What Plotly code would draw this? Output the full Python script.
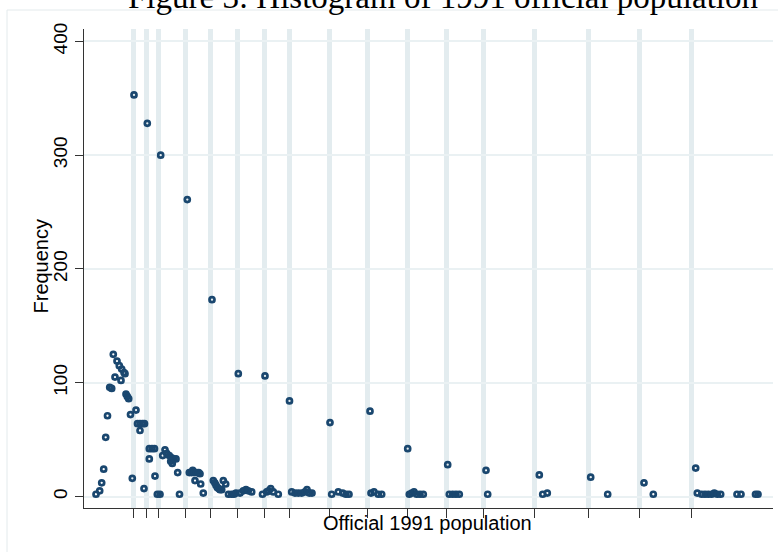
import plotly.graph_objects as go

# ---- data ----
# horizontal position of each histogram point (axis units, no tick labels shown)
pop_pos = [
    12, 15.7, 17.7, 19.7, 21.7, 23.5, 25.7, 27.7, 29.3, 31, 33, 35.3, 37, 37.7, 40, 41, 42, 43.3, 44.7, 46.5,
    48.3, 50, 52, 53.5, 56, 56, 58.5, 60.5, 60, 63.3, 65.3, 68, 70.5, 65.3, 71, 73.3, 76, 76.7, 78.7, 81,
    82.7, 85.3, 87.7, 89.3, 92, 86.7, 88.3, 93.7, 95.5, 103.3, 105.3, 107.5, 108.7, 110, 112.5, 114.7, 116, 111, 116.7, 119.3,
    128, 129.3, 130.8, 132, 133.3, 134.7, 136, 137.7, 139.3, 141.7, 144.5, 147.7, 150, 152, 154.3, 156, 159.3, 162, 164.3, 167.7,
    178.5, 181, 182.7, 184.7, 186.7, 189.3, 194.3, 205.5, 207.7, 211, 214.3, 217.7, 221, 223, 225.3, 228, 246, 247.7, 254.3, 258.7,
    262, 265, 286, 287, 290, 294.3, 297.7, 323.7, 325.3, 327.7, 330, 332.7, 336, 339.3, 363.7, 365.3, 368.7, 372, 375.3, 402,
    403.7, 455.3, 458.7, 463.3, 506.7, 523.7, 560, 569.3, 611.7, 613.3, 617.7, 621, 624.3, 627.7, 630.3, 633.3, 636.7, 653, 657, 671.5,
    674,
]
freq = [
    2, 5, 12, 24, 52, 71, 96, 95, 125, 105, 119, 115, 102, 112, 109, 108, 90, 88, 86, 72,
    16, 353, 76, 64, 64, 58, 64, 64, 7, 328, 42, 42, 42, 33, 18, 2, 2, 300, 36, 41,
    38, 36, 34, 33, 33, 31, 29, 21, 2, 261, 21, 21, 23, 21, 21, 21, 20, 14, 11, 3,
    173, 14, 12, 10, 8, 7, 6, 6, 14, 11, 2, 2, 2, 3, 108, 3, 5, 6, 5, 4,
    2, 106, 4, 5, 7, 4, 2, 84, 4, 3, 3, 3, 4, 6, 3, 3, 65, 2, 4, 3,
    2, 2, 75, 3, 4, 2, 2, 42, 2, 3, 4, 2, 2, 2, 28, 2, 2, 2, 2, 23,
    2, 19, 2, 3, 17, 2, 12, 2, 25, 3, 2, 2, 2, 2, 3, 2, 2, 2, 2, 2,
    2,
]
# heaping positions marked by vertical lines / x ticks
heap_pos = [49, 62.7, 74.7, 101.5, 126.7, 153, 180, 205, 245.5, 283.5, 323, 362, 399.5, 450.5, 504, 555.5, 607]
freq_ticks = [0, 100, 200, 300, 400]

title_text = "Figure 3: Histogram of 1991 official population"
x_title = "Official 1991 population"
y_title = "Frequency"

NAVY = "#1a476f"
LINE = "#e3ecef"

fig = go.Figure()
fig.add_trace(go.Scatter(
    x=pop_pos, y=freq, mode="markers",
    marker=dict(symbol="circle-open", size=5, color=NAVY, line=dict(width=2.7, color=NAVY)),
    hoverinfo="x+y", showlegend=False,
))

W, H = 778, 552
ML, MR, MT, MB = 84, 5, 29, 44
PW = W - ML - MR
PH = H - MT - MB

def px_x(p):
    return (p - ML) / PW

def px_y(p):
    return 1 - (p - MT) / PH

fig.update_layout(
    width=W, height=H,
    margin=dict(l=ML, r=MR, t=MT, b=MB, pad=0, autoexpand=False),
    paper_bgcolor="white", plot_bgcolor="white",
    font=dict(family="Liberation Sans, Arial, sans-serif", color="#000000"),
    xaxis=dict(
        range=[0, 689], tickmode="array", tickvals=heap_pos, showticklabels=False,
        showgrid=True, gridcolor=LINE, gridwidth=5, automargin=False,
        ticks="outside", ticklen=9, tickwidth=1, tickcolor="#333333",
        showline=True, linecolor="#333333", linewidth=1, zeroline=False,
    ),
    yaxis=dict(
        range=[-10.1, 410.9], tickmode="array", tickvals=freq_ticks,
        ticktext=[str(t) for t in freq_ticks], tickangle=-90, automargin=False,
        tickfont=dict(size=19, family="Liberation Sans, Arial, sans-serif"),
        showgrid=True, gridcolor="#eaf1f3", gridwidth=2,
        ticks="outside", ticklen=8, tickwidth=1, tickcolor="#333333",
        showline=True, linecolor="#333333", linewidth=1, zeroline=False,
    ),
    shapes=[dict(
        type="rect", xref="paper", yref="paper", layer="below",
        x0=px_x(7), x1=px_x(790), y0=px_y(10), y1=px_y(565),
        line=dict(color="#e3eaec", width=1), fillcolor="rgba(0,0,0,0)",
    )],
    annotations=[
        dict(text=title_text, xref="paper", yref="paper", x=px_x(442.5), y=px_y(17),
             xanchor="center", yanchor="bottom", showarrow=False,
             font=dict(family="Liberation Serif, Times New Roman, serif", size=33, color="#000000")),
        dict(text=y_title, xref="paper", yref="paper", x=px_x(40), y=px_y(266.5),
             xanchor="center", yanchor="middle", textangle=-90, showarrow=False,
             font=dict(size=20)),
        dict(text=x_title, xref="paper", yref="paper", x=px_x(427), y=px_y(523),
             xanchor="center", yanchor="middle", showarrow=False,
             font=dict(size=20)),
    ],
)

fig.write_html("out.html", config={"displayModeBar": False},
               post_script="document.body.style.margin='0';")
